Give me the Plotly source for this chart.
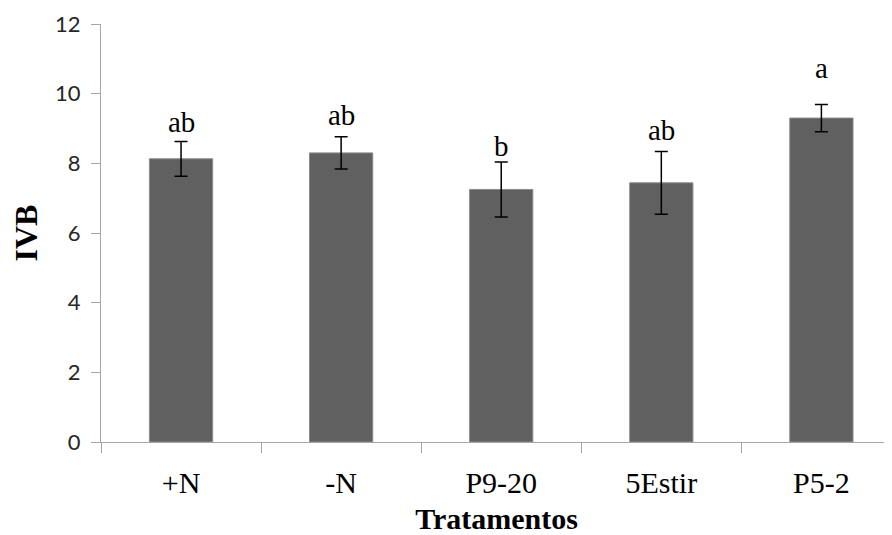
import plotly.graph_objects as go

categories = ["+N", "-N", "P9-20", "5Estir", "P5-2"]
means = [8.13, 8.30, 7.25, 7.44, 9.30]
errors = [0.50, 0.46, 0.79, 0.90, 0.39]
letters = ["ab", "ab", "b", "ab", "a"]
letter_y = [8.67, 8.87, 7.98, 8.43, 10.22]
y_ticks = [0, 2, 4, 6, 8, 10, 12]

serif = "Liberation Serif, Times New Roman, serif"

fig = go.Figure()
fig.add_trace(go.Bar(
    x=categories, y=means, width=0.395,
    marker=dict(color="#606060", line=dict(color="#8a8a8a", width=1)),
    error_y=dict(type="data", array=errors, visible=True,
                 color="black", thickness=1.5, width=6.5),
    showlegend=False,
))

for c, t, yy in zip(categories, letters, letter_y):
    fig.add_annotation(x=c, y=yy, text=t, showarrow=False,
                       yanchor="bottom", xanchor="center",
                       font=dict(family=serif, size=29, color="black"))

fig.update_layout(
    width=892, height=535,
    margin=dict(l=93, r=8, t=16, b=101),
    plot_bgcolor="white", paper_bgcolor="white",
    bargap=0.6,
)
fig.update_xaxes(
    type="category", range=[-0.5, 4.441], automargin=False,
    showline=True, linecolor="#a6a6a6", linewidth=1.3,
    ticks="outside", tickson="boundaries", ticklen=10, tickcolor="#a6a6a6",
    tickfont=dict(family=serif, size=30, color="black"),
    ticklabelstandoff=14,
    showgrid=False, zeroline=False,
    title=dict(text="<b>Tratamentos</b>", font=dict(family=serif, size=30, color="black"), standoff=9),
)
fig.update_yaxes(
    range=[0, 12], tickvals=y_ticks, automargin=False,
    showline=True, linecolor="#a6a6a6", linewidth=1.3,
    ticks="outside", ticklen=9, tickcolor="#a6a6a6",
    tickfont=dict(family="Lato, Carlito, sans-serif", size=22, color="#262626"),
    ticklabelstandoff=6,
    showgrid=False, zeroline=False,
    title=dict(text="<b>IVB</b>", font=dict(family=serif, size=32, color="black"), standoff=12),
)

fig.write_html("out.html")
